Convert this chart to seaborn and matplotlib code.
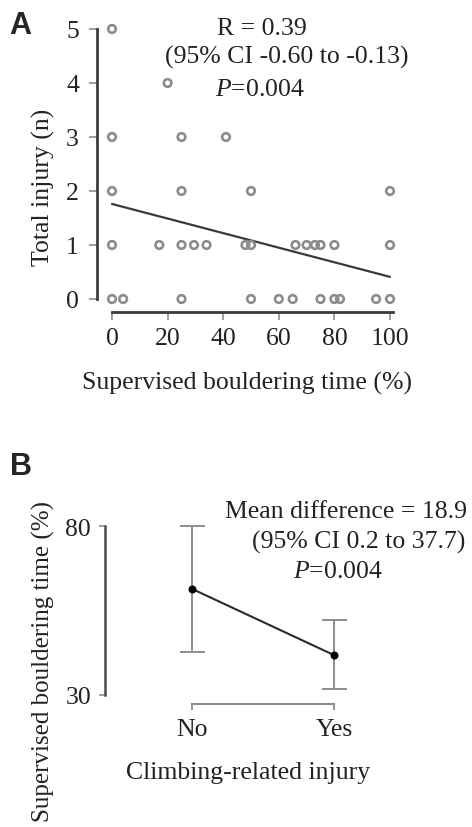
import numpy as np
import pandas as pd
import matplotlib
matplotlib.use("Agg")
import matplotlib.pyplot as plt
import seaborn as sns

# ---- Panel A data ----
sup_time = [0, 20, 0, 25, 41, 0, 25, 50, 100,
            0, 17, 25, 29.5, 34, 48, 50, 66, 70, 73, 75, 80, 100,
            0, 4, 25, 50, 60, 65, 75, 80, 82, 95, 100]
total_injury = [5, 4, 3, 3, 3, 2, 2, 2, 2,
                1, 1, 1, 1, 1, 1, 1, 1, 1, 1, 1, 1, 1,
                0, 0, 0, 0, 0, 0, 0, 0, 0, 0, 0]
fit_x = [0, 100]
fit_y = [1.76, 0.41]
a_xticks = [0, 20, 40, 60, 80, 100]
a_yticks = [0, 1, 2, 3, 4, 5]

# ---- Panel B data ----
groups = ["No", "Yes"]
means = [61.4, 41.8]
ci_low = [42.7, 31.8]
ci_high = [80.0, 52.2]
b_yticks = [30, 80]

sns.set_theme(style="white")
plt.rcParams['font.family'] = ['Liberation Serif', 'DejaVu Serif']
plt.rcParams['mathtext.fontset'] = 'custom'
plt.rcParams['mathtext.rm'] = 'Liberation Serif'
plt.rcParams['mathtext.it'] = 'Liberation Serif:italic'

W, H = 472, 828
fig = plt.figure(figsize=(W / 100, H / 100), dpi=100)

def fx(px):
    return px / W

def fy(py):
    return 1 - py / H

FS = 18.5
TXT = "#222222"

# ---------------- Panel A ----------------
xs = (390 - 112) / 100.0
ys = (300 - 30) / 5.0
left_px, right_px, top_px, bot_px = 97, 400, 22, 313
xl0 = (left_px - 112) / xs
xl1 = (right_px - 112) / xs
yl0 = -(bot_px - 300) / ys
yl1 = 5 + (30 - top_px) / ys
axA = fig.add_axes([fx(left_px), fy(bot_px), (right_px - left_px) / W, (bot_px - top_px) / H])
dfA = pd.DataFrame({"time": sup_time, "injury": total_injury})
sns.scatterplot(data=dfA, x="time", y="injury", ax=axA, marker="o", s=30,
                facecolor="none", edgecolor="#8c8c8c", linewidth=1.9, zorder=3)
sns.lineplot(x=fit_x, y=fit_y, ax=axA, color="#3a3a3a", linewidth=1.6, zorder=2)
axA.set_xlim(xl0, xl1)
axA.set_ylim(yl0, yl1)
axA.set_xticks(a_xticks)
axA.set_yticks(a_yticks)
axA.set_xticklabels([str(t) for t in a_xticks], fontsize=FS)
axA.set_yticklabels([str(t) for t in a_yticks], fontsize=FS)
for s in ["top", "right"]:
    axA.spines[s].set_visible(False)
axA.spines["left"].set_bounds(0, 5)
axA.spines["bottom"].set_bounds(0, 101)
for s in ["left", "bottom"]:
    axA.spines[s].set_color("#3c3c3c")
    axA.spines[s].set_linewidth(2.0)
axA.tick_params(axis="x", direction="out", length=6, width=1.2, color="#8c8c8c", pad=5, bottom=True, labelcolor=TXT)
axA.tick_params(axis="y", direction="out", length=6, width=1.2, color="#8c8c8c", pad=7, left=True, labelcolor=TXT)
axA.set_xlabel("Supervised bouldering time (%)", fontsize=FS, color=TXT)
axA.xaxis.set_label_coords(fx(247), fy(383), transform=fig.transFigure)
axA.xaxis.label.set_verticalalignment("center")
axA.set_ylabel("Total injury (n)", fontsize=FS, color=TXT)
axA.yaxis.set_label_coords(fx(43), fy(187), transform=fig.transFigure)
axA.yaxis.label.set_verticalalignment("center")
axA.grid(False)

fig.text(fx(262), fy(29), "R = 0.39", fontsize=FS, ha="center", va="center", color=TXT)
fig.text(fx(287), fy(57), "(95% CI -0.60 to -0.13)", fontsize=FS, ha="center", va="center", color=TXT)
fig.text(fx(260), fy(90), "$\\mathit{P}$=0.004", fontsize=FS, ha="center", va="center", color=TXT)
fig.text(fx(9), fy(26), "A", fontsize=22, fontweight="bold", family="Liberation Sans", ha="left", va="center")

# ---------------- Panel B ----------------
bxs = 334 - 192
bys = (696 - 527) / 50.0
bleft, bright, btop, bbot = 105, 400, 515, 705
axB = fig.add_axes([fx(bleft), fy(bbot), (bright - bleft) / W, (bbot - btop) / H])
xpos = np.arange(len(groups))
means_a = np.array(means)
yerr = np.vstack([means_a - np.array(ci_low), np.array(ci_high) - means_a])
axB.errorbar(xpos, means, yerr=yerr, fmt="none", ecolor="#8c8c8c", elinewidth=1.4,
             capsize=9, capthick=1.4, zorder=2)
dfB = pd.DataFrame({"group": xpos, "mean": means})
sns.lineplot(data=dfB, x="group", y="mean", ax=axB, color="#2a2a2a", linewidth=1.5,
             marker="o", markersize=5, markeredgecolor="black", markerfacecolor="black", zorder=3)
axB.set_xlim((bleft - 192) / bxs, (bright - 192) / bxs)
axB.set_ylim(30 - (bbot - 696) / bys, 80 + (527 - btop) / bys)
axB.set_xticks(xpos)
axB.set_xticklabels(groups, fontsize=FS, color=TXT)
axB.set_yticks(b_yticks)
axB.set_yticklabels([str(t) for t in b_yticks], fontsize=FS, color=TXT)
for s in ["top", "right"]:
    axB.spines[s].set_visible(False)
axB.spines["left"].set_bounds(30, 80)
axB.spines["bottom"].set_bounds(0, 1)
axB.spines["left"].set_color("#4a4a4a")
axB.spines["left"].set_linewidth(1.8)
axB.spines["bottom"].set_color("#8c8c8c")
axB.spines["bottom"].set_linewidth(1.5)
axB.tick_params(axis="x", direction="out", length=4, width=1.3, color="#8c8c8c", pad=6, bottom=True)
axB.tick_params(axis="y", direction="out", length=4, width=1.2, color="#8c8c8c", pad=6, left=True)
axB.set_xlabel("Climbing-related injury", fontsize=FS, color=TXT)
axB.xaxis.set_label_coords(fx(248), fy(773), transform=fig.transFigure)
axB.xaxis.label.set_verticalalignment("center")
axB.set_ylabel("Supervised bouldering time (%)", fontsize=18, color=TXT)
axB.yaxis.set_label_coords(fx(43), fy(662), transform=fig.transFigure)
axB.yaxis.label.set_verticalalignment("center")
axB.grid(False)

fig.text(fx(467), fy(512), "Mean difference = 18.9", fontsize=FS, ha="right", va="center", color=TXT)
fig.text(fx(465), fy(542), "(95% CI 0.2 to 37.7)", fontsize=FS, ha="right", va="center", color=TXT)
fig.text(fx(338), fy(572), "$\\mathit{P}$=0.004", fontsize=FS, ha="center", va="center", color=TXT)
fig.text(fx(10), fy(467), "B", fontsize=22, fontweight="bold", family="Liberation Sans", ha="left", va="center")

fig.savefig("out.png", dpi=100)
